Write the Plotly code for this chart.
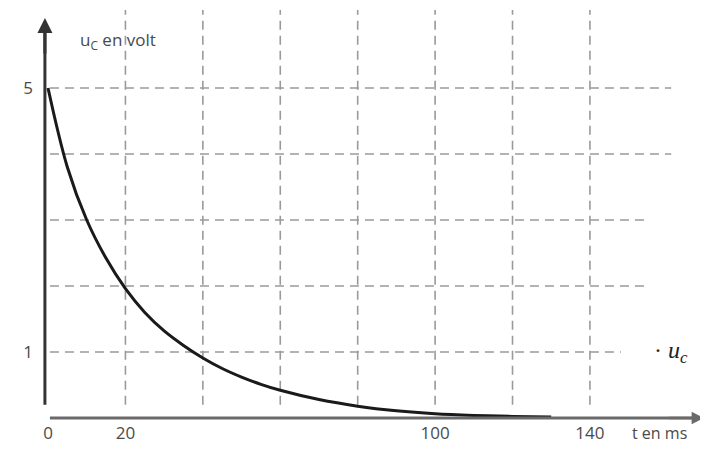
import plotly.graph_objects as go

# ---- data ----
t_ms = [0, 5, 10, 15, 20, 25, 30, 35, 40, 45, 50, 55, 60, 70, 80, 90, 100, 110, 120, 130]
u_c = [5.0, 3.8, 3.0, 2.42, 1.96, 1.6, 1.32, 1.1, 0.91, 0.75, 0.62, 0.51, 0.42, 0.28, 0.18, 0.11, 0.065, 0.04, 0.025, 0.015]

x_tick_vals = [0, 20, 100, 140]
x_tick_text = ["0", "20", "100", "140"]
y_tick_vals = [1, 5]
y_tick_text = ["1", "5"]

v_grid = [20, 40, 60, 80, 100, 120, 140]
h_grid = [1, 2, 3, 4, 5]
h_grid_end = [148, 154, 154, 161, 161]   # right end of each horizontal grid line

GRID = "#9a9a9a"
TXT = "#4a4a4a"
FONT = "Open Sans, Liberation Sans, sans-serif"

fig = go.Figure()

shapes = []
for tv in v_grid:
    shapes.append(dict(type="line", xref="x", yref="y", x0=tv, x1=tv, y0=0.2, y1=6.18,
                       line=dict(color=GRID, width=1.6, dash="9px,6px"), layer="below"))
for uv, xe in zip(h_grid, h_grid_end):
    shapes.append(dict(type="line", xref="x", yref="y", x0=0.5, x1=xe, y0=uv, y1=uv,
                       line=dict(color=GRID, width=1.6, dash="9px,6px"), layer="below"))
# axes lines
shapes.append(dict(type="line", xref="x", yref="y", x0=0.5, x1=167, y0=0, y1=0,
                   line=dict(color="#6a6a6a", width=3)))
shapes.append(dict(type="line", xref="x", yref="y", x0=-0.8, x1=-0.8, y0=0.2, y1=5.9,
                   line=dict(color="#333333", width=3)))

fig.add_trace(go.Scatter(x=t_ms, y=u_c, mode="lines", line=dict(color="#1a1a1a", width=3, shape="spline", smoothing=1.0),
                         hoverinfo="skip", showlegend=False))

annotations = [
    # arrowheads
    dict(x=169.5, y=0, ax=160, ay=0, xref="x", yref="y", axref="x", ayref="y", text="",
         showarrow=True, arrowhead=2, arrowsize=1, arrowwidth=2.5, arrowcolor="#6a6a6a"),
    dict(x=-0.8, y=6.06, ax=-0.8, ay=5.5, xref="x", yref="y", axref="x", ayref="y", text="",
         showarrow=True, arrowhead=2, arrowsize=1, arrowwidth=3, arrowcolor="#333333"),
    dict(x=18, y=5.72, xref="x", yref="y", text="u<sub>C</sub> en volt", showarrow=False,
         font=dict(family=FONT, size=17, color=TXT)),
    dict(x=158, y=-0.03, xref="x", yref="paper", yanchor="middle", text="t en ms", showarrow=False,
         font=dict(family=FONT, size=16, color=TXT)),
    dict(x=161, y=1.0, xref="x", yref="y", text="· <i>u<sub>c</sub></i>", showarrow=False,
         font=dict(family="Liberation Serif, serif", size=24, color="#222222")),
]

# the page body adds an 8px offset, so the figure is 8px smaller and shifted accordingly
fig.update_layout(
    width=700, height=453,
    margin=dict(l=32, r=0, t=0, b=40),
    paper_bgcolor="white", plot_bgcolor="white",
    shapes=shapes, annotations=annotations,
    xaxis=dict(range=[-2.07, 170.5], tickvals=x_tick_vals, ticktext=x_tick_text,
               showgrid=False, zeroline=False, showline=False, ticks="", ticklabelstandoff=0,
               tickfont=dict(family=FONT, size=17, color=TXT), fixedrange=True),
    yaxis=dict(range=[-0.045, 6.212], tickvals=y_tick_vals, ticktext=y_tick_text,
               showgrid=False, zeroline=False, showline=False, ticks="", ticklabelstandoff=6,
               tickfont=dict(family=FONT, size=17, color=TXT), fixedrange=True),
)

fig.write_html("out.html")
